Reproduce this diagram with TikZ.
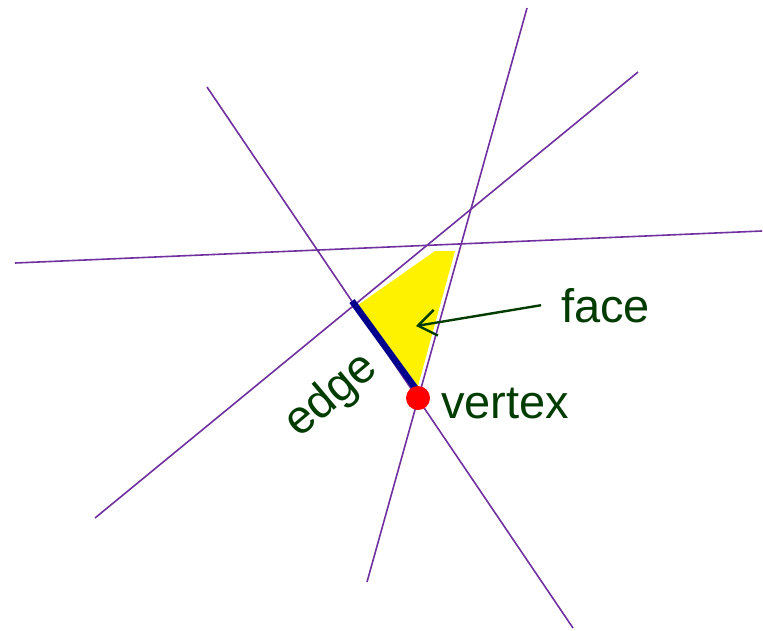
\documentclass[tikz,border=0pt]{standalone}
\usepackage{fontspec}
\setmainfont{Liberation Sans}
\usepackage{xcolor}
\usetikzlibrary{arrows.meta}
\definecolor{linepurple}{RGB}{112,48,160}
\definecolor{textgreen}{RGB}{0,60,0}
\definecolor{edgeblue}{RGB}{0,0,140}

\begin{document}
\begin{tikzpicture}[
    x=1pt, y=-1pt,
    font=\fontsize{47}{50}\selectfont,
    hline/.style={linepurple, line width=1.6pt},
    lbl/.style={text=textgreen, inner sep=0pt},
    arr/.style={-{Straight Barb[length=18pt, width=26pt]}, textgreen, line width=2.4pt}
]
  \useasboundingbox (0,0) rectangle (763,630);

  % the four lines
  \coordinate (a1) at (207,87);  \coordinate (a2) at (573,628);
  \coordinate (b1) at (527,8);   \coordinate (b2) at (367,582);
  \coordinate (c1) at (95,518);  \coordinate (c2) at (638,72);
  \coordinate (d1) at (15,263);  \coordinate (d2) at (762,231);
  \draw[hline] (a1) -- (a2);
  \draw[hline] (b1) -- (b2);
  \draw[hline] (c1) -- (c2);
  \draw[hline] (d1) -- (d2);

  % face, edge and vertex
  \fill[yellow] (358,305) -- (435,251) -- (455,251) -- (418,386) -- cycle;
  \coordinate (e1) at (352,301);
  \coordinate (e2) at (416,389);
  \draw[edgeblue, line width=6.5pt] (e1) -- (e2);
  \node[circle, fill=red, minimum size=24pt, inner sep=0pt] (vtx) at (418,398) {};

  % labels
  \node[lbl, anchor=base west] (face) at (561,322) {face};
  \node[lbl, anchor=base west] (vertex) at (441,418) {vertex};
  \node[lbl, rotate=40] (edge) at (332,396) {edge};
  \coordinate (fpt) at (416,326);
  \draw[arr] ([xshift=-20pt]face.west) -- (fpt);
\end{tikzpicture}
\end{document}
